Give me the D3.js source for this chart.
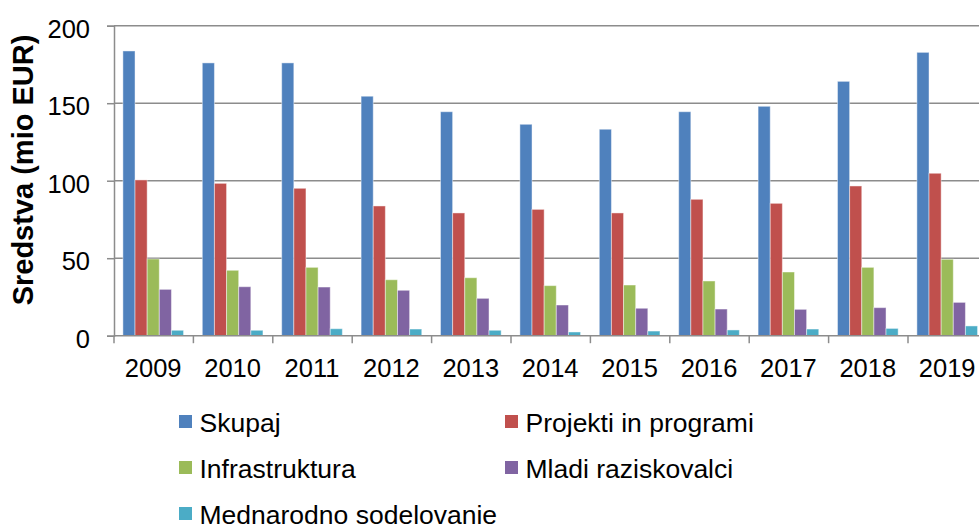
<!DOCTYPE html>
<html>
<head>
<meta charset="utf-8">
<script src="https://cdn.jsdelivr.net/npm/d3@7"></script>
<style>
  body { margin: 0; background: #fff; }
  text { font-family: "Liberation Sans", Arial, sans-serif; fill: #000; }
</style>
</head>
<body>
<div id="chart"></div>
<script>
const years = ['2009', '2010', '2011', '2012', '2013', '2014', '2015', '2016', '2017', '2018', '2019'];
const seriesNames = ['Skupaj', 'Projekti in programi', 'Infrastruktura', 'Mladi raziskovalci', 'Mednarodno sodelovanje'];
const skupaj     = [183.7, 176, 176, 154.5, 144.5, 136.4, 133.2, 144.5, 148, 164.1, 182.8];
const projekti   = [100.5, 98.3, 95.1, 83.7, 79.2, 81.5, 79.2, 88, 85.4, 96.6, 104.8];
const infra      = [49.5, 42.2, 44.1, 36.1, 37.4, 32.3, 32.7, 35.3, 41.1, 44.1, 49.3];
const mladi      = [29.9, 31.6, 31.4, 29.3, 24.1, 19.8, 17.7, 17.2, 17, 18.1, 21.5];
const mednarodno = [3.5, 3.5, 4.5, 4.3, 3.5, 2.4, 3, 3.7, 4.3, 4.7, 6.3];
const yTicks = [0, 50, 100, 150, 200];
const colors = ['#4F81BD', '#C0504D', '#9BBB59', '#8064A2', '#4BACC6'];

const allSeries = [skupaj, projekti, infra, mladi, mednarodno];
const width = 979, height = 524;
const plotLeft = 114, plotTop = 25.7, plotBottom = 335.7;
const bandW = 79.4;

const svg = d3.select('#chart').append('svg')
    .attr('width', width)
    .attr('height', height);

const x = d3.scaleBand()
    .domain(years)
    .range([plotLeft, plotLeft + bandW * years.length]);

const x1 = d3.scaleBand()
    .domain(seriesNames)
    .range([x.bandwidth() * 0.112, x.bandwidth() * 0.876]);

const y = d3.scaleLinear()
    .domain([0, 200])
    .range([plotBottom, plotTop]);

// gridlines
svg.append('g')
    .selectAll('line')
    .data(yTicks.filter(d => d > 0))
    .enter().append('line')
    .attr('x1', plotLeft)
    .attr('x2', width)
    .attr('y1', d => y(d))
    .attr('y2', d => y(d))
    .attr('stroke', '#8c8c8c')
    .attr('stroke-width', 1.5);

// bars
const groups = svg.append('g')
    .selectAll('g')
    .data(years)
    .enter().append('g')
    .attr('transform', d => `translate(${x(d)},0)`);

groups.selectAll('rect')
    .data((d, i) => seriesNames.map((s, j) => ({ s: s, v: allSeries[j][i], c: colors[j] })))
    .enter().append('rect')
    .attr('x', d => x1(d.s))
    .attr('width', x1.bandwidth())
    .attr('y', d => y(d.v))
    .attr('height', d => y(0) - y(d.v))
    .attr('fill', d => d.c)
    .attr('stroke', 'rgba(255,255,255,0.45)')
    .attr('stroke-width', 1);

// y axis
const yAxis = svg.append('g')
    .attr('transform', `translate(${plotLeft},0)`)
    .call(d3.axisLeft(y).tickValues(yTicks).tickSize(7).tickPadding(17));
yAxis.select('.domain').attr('stroke', '#8c8c8c').attr('stroke-width', 1.5);
yAxis.selectAll('.tick line').attr('stroke', '#8c8c8c').attr('stroke-width', 1.5);
yAxis.selectAll('.tick text')
    .style('font-family', '"Liberation Sans", Arial, sans-serif')
    .style('font-size', '25.5px')
    .attr('dy', '0.45em');

// x axis
const xTickPos = years.map(d => x(d)).concat([x(years[years.length - 1]) + bandW]);
svg.append('line')
    .attr('x1', plotLeft).attr('x2', width)
    .attr('y1', plotBottom).attr('y2', plotBottom)
    .attr('stroke', '#8c8c8c').attr('stroke-width', 1.5);
svg.append('g')
    .selectAll('line')
    .data(xTickPos)
    .enter().append('line')
    .attr('x1', d => d).attr('x2', d => d)
    .attr('y1', plotBottom).attr('y2', plotBottom + 7.5)
    .attr('stroke', '#8c8c8c').attr('stroke-width', 1.5);
svg.append('g')
    .selectAll('text')
    .data(years)
    .enter().append('text')
    .attr('x', d => x(d) + x.bandwidth() / 2 - 0.5)
    .attr('y', 376.5)
    .attr('text-anchor', 'middle')
    .style('font-size', '25.5px')
    .text(d => d);

// y title
svg.append('text')
    .attr('transform', 'translate(33,170) rotate(-90)')
    .attr('text-anchor', 'middle')
    .style('font-size', '29px')
    .style('font-weight', 'bold')
    .text('Sredstva (mio EUR)');

// legend
const legendPos = [
    { x: 179, y: 421.5 }, { x: 505, y: 421.5 },
    { x: 179, y: 467.5 }, { x: 505, y: 467.5 },
    { x: 179, y: 513.5 }
];
const legend = svg.append('g')
    .selectAll('g')
    .data(seriesNames)
    .enter().append('g')
    .attr('transform', (d, i) => `translate(${legendPos[i].x},${legendPos[i].y})`);
legend.append('rect')
    .attr('x', 0).attr('y', -6.5)
    .attr('width', 13).attr('height', 13)
    .attr('fill', (d, i) => colors[i]);
legend.append('text')
    .attr('x', 20.5)
    .attr('y', 10)
    .style('font-size', '26.5px')
    .text(d => d);
</script>
</body>
</html>
